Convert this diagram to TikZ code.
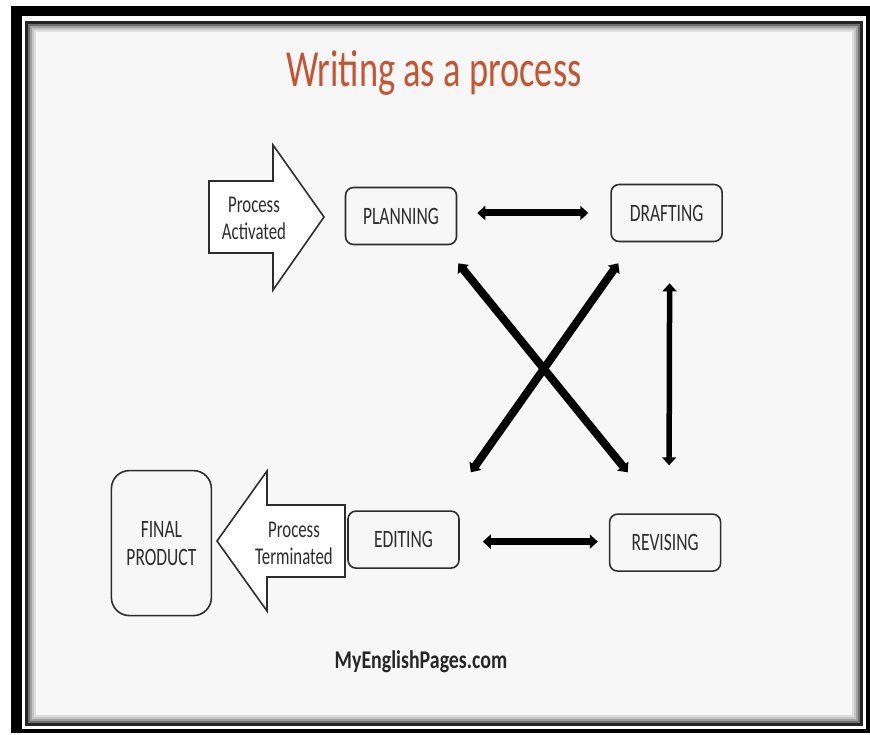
\documentclass[tikz,border=0pt]{standalone}
\usepackage{fontspec}
\setmainfont{Carlito}
\newfontfamily\slidefont[FakeStretch=0.7]{Carlito}
\newfontfamily\sitefont[FakeStretch=0.78]{Carlito}
\usetikzlibrary{arrows.meta, positioning, calc}

\definecolor{titlered}{RGB}{196,84,50}
\definecolor{inkgray}{RGB}{45,45,45}
\definecolor{panelgray}{RGB}{247,247,247}

\begin{document}
\begin{tikzpicture}[x=1pt, y=-1pt,
    stage/.style={draw=inkgray, line width=1.6pt, rounded corners=8pt, inner sep=0pt,
        minimum width=111pt, minimum height=57pt, text=inkgray,
        font=\slidefont\fontsize{25}{28}\selectfont},
    blockarrow/.style={draw=inkgray, line width=1.6pt, fill=white, line join=miter},
    arrowtext/.style={text=inkgray, align=center, font=\slidefont\fontsize{24}{27}\selectfont},
    link/.style={line width=7pt, black, {Triangle[length=8pt,width=14pt]}-{Triangle[length=8pt,width=14pt]}}]
    \useasboundingbox (0,0) rectangle (870,735);

    % Frame
    \fill[white] (0,0) rectangle (870,735);
    \fill[black] (11,6) rectangle (870,733);
    \fill[white] (22,16) rectangle (866,729);
    \foreach \d/\c in {0/85, 3/55, 5/35, 7/20, 9/10} {
        \fill[black!\c!panelgray] (25+\d,21+\d) rectangle (863-\d,726-\d);
    }
    \fill[panelgray] (36,32) rectangle (852,715);

    % Title
    \node[anchor=base, text=titlered, font=\slidefont\fontsize{52}{60}\selectfont] (title) at (434,87) {Writing as a process};

    % Stages
    \node[stage] (planning) at (401,216) {PLANNING};
    \node[stage, right=153pt of planning, yshift=3pt] (drafting) {DRAFTING};
    \node[stage, below=265pt of planning, xshift=2.5pt] (editing) {EDITING};
    \node[stage, right=149pt of editing, yshift=-3pt] (revising) {REVISING};
    \node[stage, rounded corners=18pt, minimum width=100pt, minimum height=145pt, align=center,
        left=135pt of editing, yshift=-3.5pt] (final) {FINAL\\PRODUCT};

    % Block arrows
    \draw[blockarrow] (209,181) -- (273,181) -- (273,145) -- (324,217) -- (273,290) -- (273,253) -- (209,253) -- cycle;
    \node[arrowtext] (activated) at (254,218) {Process\\Activated};
    \draw[blockarrow] (345,505) -- (267,505) -- (267,471) -- (217,541) -- (267,611) -- (267,577) -- (345,577) -- cycle;
    \node[arrowtext] (terminated) at (294,543) {Process\\Terminated};

    % Connections
    \draw[link] ($(planning.east)+(20,-3)$) -- ($(drafting.west)+(-22,0)$);
    \draw[link] ($(editing.east)+(23,2)$) -- ($(revising.west)+(-11,-1)$);
    \draw[link, line width=8pt] ($(planning.south east)+(1,18)$) -- ($(revising.north west)+(19,-41)$);
    \draw[link, line width=8pt] ($(drafting.south west)+(8,21)$) -- ($(editing.north east)+(11,-38)$);
    \draw[link, line width=5.5pt] ($(drafting.south)+(3,41)$) -- ($(revising.north)+(4,-48)$);

    % Footer
    \node[anchor=base, text=black!85, font=\sitefont\bfseries\fontsize{25.5}{30}\selectfont] (site) at (421,668) {MyEnglishPages.com};
\end{tikzpicture}
\end{document}
